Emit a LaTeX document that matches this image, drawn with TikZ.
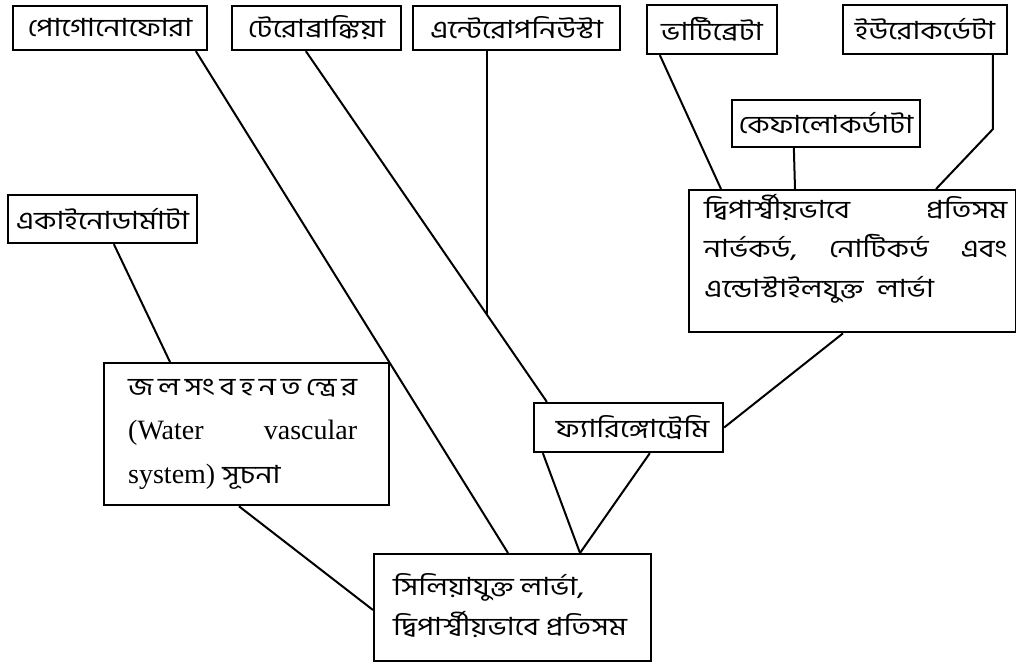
\documentclass[tikz,border=0pt]{standalone}
\usepackage{fontspec}
\setmainfont{Liberation Serif}
\newfontfamily\bn[Script=Bengali, FakeStretch=1.2]{Hind Siliguri}
\newcommand{\latn}{\rmfamily\fontsize{28}{44}\selectfont}
\usetikzlibrary{calc}
\tikzset{
  box/.style={draw, line width=2.3pt, inner sep=0pt, font=\bn\fontsize{25}{30}\selectfont},
  txt/.style={inner sep=0pt, align=left, font=\bn\fontsize{25}{39.5}\selectfont},
  link/.style={line width=2pt},
}
\begin{document}
\begin{tikzpicture}[x=1pt,y=-1pt]
\useasboundingbox (0,0) rectangle (1016,663);
% top row
\node[box, minimum width=194pt, minimum height=44pt] (pogo)   at (110,28)   {পোগোনোফোরা};
\node[box, minimum width=169pt, minimum height=44pt] (ptero)  at (316.5,28) {টেরোব্রাঙ্কিয়া};
\node[box, minimum width=207pt, minimum height=44pt] (entero) at (516.5,28) {এন্টেরোপনিউস্টা};
\node[box, minimum width=130pt, minimum height=49pt] (verte)  at (712,29.5) {ভার্টিব্রেটা};
\node[box, minimum width=164pt, minimum height=49pt] (uro)    at (925,29.5) {ইউরোকর্ডেটা};
\node[box, minimum width=188pt, minimum height=47pt] (cephalo) at (826,123.5) {কেফালোকর্ডাটা};
\node[box, minimum width=189pt, minimum height=48pt] (echino) at (102.5,219) {একাইনোডার্মাটা};
\node[box, minimum width=189pt, minimum height=49pt] (pharyn) at (628.5,427.5) {\hspace{8pt}ফ্যারিঙ্গোট্রেমি};
% multi-line boxes
\node[box, minimum width=327pt, minimum height=142pt, anchor=north west] (big) at (688,189) {};
\node[txt, anchor=base west] (bigtext) at ($(big.north west)+(16,108)$)
  {\hbox to 303pt{দ্বিপার্শ্বীয়ভাবে\hfill প্রতিসম}\\
   \hbox to 303pt{নার্ভকর্ড,\hfill নোটিকর্ড\hfill এবং}\\
   \hbox to 303pt{এন্ডোস্টাইলযুক্ত\ \ লার্ভা\hfill}};
\node[box, minimum width=285pt, minimum height=142pt, anchor=north west] (water) at (103,362) {};
\node[txt, anchor=base west, font=\bn\fontsize{25}{44}\selectfont] (watertext) at ($(water.north west)+(25,121)$)
  {\hbox to 229pt{জ\hfill ল\hfill সং\hfill ব\hfill হ\hfill ন\hfill ত\hfill ন্ত্রে\hfill র}\\
   \hbox to 229pt{\latn (Water\hfill vascular}\\
   \hbox to 229pt{\latn system) \bn\fontsize{25}{44}\selectfont সূচনা\hfill}};
\node[box, minimum width=277pt, minimum height=107pt, anchor=north west] (cilia) at (373,553) {};
\node[txt, anchor=base west, font=\bn\fontsize{25}{40}\selectfont] (ciliatext) at ($(cilia.north west)+(20,82)$)
  {সিলিয়াযুক্ত\ লার্ভা,\\ দ্বিপার্শ্বীয়ভাবে\ প্রতিসম};
% connectors
\coordinate (pt1) at ($(ptero.south west)+(75,0)$);
\coordinate (pt2) at ($(pharyn.north west)+(14,0)$);
\coordinate (ej) at ($(pt1)!0.751!(pt2)$);
\coordinate (uroBend) at ($(uro.south west)+(151,74)$);
\coordinate (phJoin) at ($(cilia.north west)+(207,0)$);
\draw[link] ($(pogo.south west)+(184,0)$) -- ($(cilia.north west)+(135,0)$);
\draw[link] (pt1) -- (pt2);
\draw[link] (ej |- entero.south) -- (ej);
\draw[link] ($(verte.south west)+(14,0)$) -- ($(big.north west)+(33,0)$);
\draw[link] ($(cephalo.south west)+(63,0)$) -- ($(big.north west)+(107,0)$);
\draw[link] ($(uro.south west)+(151,0)$) -- (uroBend) -- ($(big.north west)+(248,0)$);
\draw[link] ($(big.south west)+(155,0)$) -- (pharyn.east);
\draw[link] ($(pharyn.south west)+(10,0)$) -- (phJoin);
\draw[link] ($(pharyn.south west)+(117,0)$) -- (phJoin);
\draw[link] ($(echino.south west)+(107,0)$) -- ($(water.north west)+(67,0)$);
\draw[link] ($(water.south west)+(136,0)$) -- ($(cilia.north west)+(0,57)$);
\end{tikzpicture}
\end{document}
